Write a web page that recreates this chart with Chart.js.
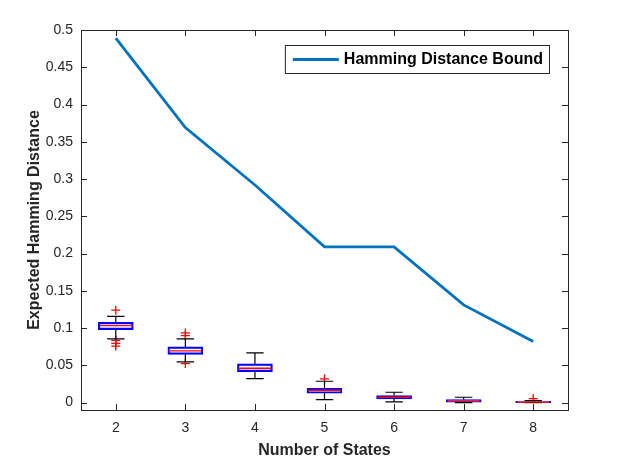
<!DOCTYPE html>
<html>
<head>
<meta charset="utf-8">
<script src="https://cdn.jsdelivr.net/npm/chart.js@4"></script>
<style>
  html, body { margin: 0; padding: 0; background: #fff; }
  #wrap { width: 623px; height: 467px; }
</style>
</head>
<body>
<div id="wrap"><canvas id="myChart" width="623" height="467"></canvas></div>
<script>
const states = [2, 3, 4, 5, 6, 7, 8];
const bound = [0.489, 0.369, 0.292, 0.209, 0.209, 0.131, 0.082];

// box plot summaries per state
const whiskerHigh = [0.1157, 0.0854, 0.0666, 0.0286, 0.0138, 0.0071, 0.0025];
const q3 = [0.1076, 0.0747, 0.0519, 0.0192, 0.0094, 0.0040, 0.0017];
const median = [0.1032, 0.0693, 0.0460, 0.0165, 0.0071, 0.0023, 0.0005];
const q1 = [0.0979, 0.0647, 0.0416, 0.0125, 0.0050, 0.0005, 0.0000];
const whiskerLow = [0.0854, 0.0546, 0.0322, 0.0040, 0.0010, 0.0000, 0.0000];
const outliers = [
  [0.1240, 0.0835, 0.0795, 0.0758],
  [0.0934, 0.0898, 0.0523],
  [],
  [0.0318],
  [],
  [],
  [0.0054]
];

const yTicks = [0, 0.05, 0.1, 0.15, 0.2, 0.25, 0.3, 0.35, 0.4, 0.45, 0.5];

const axisColor = '#262626';
const fontFamily = '"Liberation Sans", Arial, Helvetica, sans-serif';

const outlierPoints = [];
states.forEach((s, i) => outliers[i].forEach(v => outlierPoints.push({ x: s, y: v })));

// whiskers, medians, frame, inward ticks and legend
const boxExtras = {
  id: 'boxExtras',
  afterDatasetsDraw(chart) {
    const ctx = chart.ctx;
    const x = chart.scales.x, y = chart.scales.y;
    ctx.save();
    states.forEach((s, i) => {
      const px = x.getPixelForValue(s);
      const capL = x.getPixelForValue(s - 0.125), capR = x.getPixelForValue(s + 0.125);
      const boxL = x.getPixelForValue(s - 0.25), boxR = x.getPixelForValue(s + 0.25);
      ctx.strokeStyle = '#000';
      ctx.lineWidth = 1.2;
      ctx.beginPath();
      ctx.moveTo(px, y.getPixelForValue(q3[i]));
      ctx.lineTo(px, y.getPixelForValue(whiskerHigh[i]));
      ctx.moveTo(px, y.getPixelForValue(q1[i]));
      ctx.lineTo(px, y.getPixelForValue(whiskerLow[i]));
      ctx.moveTo(capL, y.getPixelForValue(whiskerHigh[i]));
      ctx.lineTo(capR, y.getPixelForValue(whiskerHigh[i]));
      ctx.moveTo(capL, y.getPixelForValue(whiskerLow[i]));
      ctx.lineTo(capR, y.getPixelForValue(whiskerLow[i]));
      ctx.stroke();
      ctx.strokeStyle = '#ff0000';
      ctx.lineWidth = 1.3;
      ctx.beginPath();
      ctx.moveTo(boxL + 1, y.getPixelForValue(median[i]));
      ctx.lineTo(boxR - 1, y.getPixelForValue(median[i]));
      ctx.stroke();
    });
    ctx.restore();
  },
  afterDraw(chart) {
    const ctx = chart.ctx;
    const a = chart.chartArea;
    const x = chart.scales.x, y = chart.scales.y;
    const tl = 6;
    ctx.save();
    ctx.strokeStyle = axisColor;
    ctx.lineWidth = 1;
    ctx.strokeRect(a.left + 0.5, a.top + 0.5, a.right - a.left, a.bottom - a.top);
    ctx.beginPath();
    x.ticks.forEach(t => {
      const px = Math.round(x.getPixelForValue(t.value)) + 0.5;
      ctx.moveTo(px, a.bottom); ctx.lineTo(px, a.bottom - tl);
      ctx.moveTo(px, a.top); ctx.lineTo(px, a.top + tl);
    });
    y.ticks.forEach(t => {
      const py = Math.round(y.getPixelForValue(t.value)) + 0.5;
      ctx.moveTo(a.left, py); ctx.lineTo(a.left + tl, py);
      ctx.moveTo(a.right, py); ctx.lineTo(a.right - tl, py);
    });
    ctx.stroke();

    // legend
    const label = chart.data.datasets[0].label;
    ctx.font = 'bold 16px ' + fontFamily;
    const tw = ctx.measureText(label).width;
    const right = a.right - 19, top = a.top + 15;
    const left = right - tw - 65;
    ctx.fillStyle = '#fff';
    ctx.fillRect(left, top, right - left, 28);
    ctx.strokeStyle = axisColor;
    ctx.strokeRect(left + 0.5, top + 0.5, right - left, 28);
    ctx.strokeStyle = '#0072BD';
    ctx.lineWidth = 2.8;
    ctx.beginPath();
    ctx.moveTo(left + 8, top + 14.5);
    ctx.lineTo(left + 54, top + 14.5);
    ctx.stroke();
    ctx.fillStyle = '#000';
    ctx.textBaseline = 'middle';
    ctx.fillText(label, left + 59, top + 15);
    ctx.restore();
  }
};

const config = {
  type: 'line',
  data: {
    datasets: [
      {
        label: 'Hamming Distance Bound',
        data: states.map((s, i) => ({ x: s, y: bound[i] })),
        borderColor: '#0072BD',
        borderWidth: 2.8,
        pointRadius: 0,
        tension: 0,
        order: 1
      },
      {
        type: 'bar',
        label: 'box',
        data: states.map((s, i) => ({ x: s, y: [q1[i], q3[i]] })),
        backgroundColor: 'rgba(0,0,0,0)',
        borderColor: '#0000ff',
        borderWidth: 1.5,
        borderSkipped: false,
        barThickness: 35,
        order: 3
      },
      {
        type: 'scatter',
        label: 'outliers',
        data: outlierPoints,
        pointStyle: 'cross',
        pointRadius: 4.5,
        borderColor: '#ff0000',
        borderWidth: 1.3,
        showLine: false,
        order: 2
      }
    ]
  },
  options: {
    responsive: false,
    devicePixelRatio: 1,
    animation: false,
    layout: { padding: { top: 30, right: 55, left: 0, bottom: 0 } },
    plugins: { legend: { display: false }, tooltip: { enabled: false } },
    scales: {
      x: {
        type: 'linear',
        min: 1.5,
        max: 8.5,
        offset: false,
        afterFit(scale) { scale.height = 57; },
        afterBuildTicks(scale) { scale.ticks = states.map(v => ({ value: v })); },
        grid: { display: false, drawTicks: false },
        border: { display: false },
        ticks: {
          color: axisColor,
          padding: 10,
          font: { family: fontFamily, size: 14 },
          callback: v => String(v)
        },
        title: {
          display: true,
          text: 'Number of States',
          color: axisColor,
          font: { family: fontFamily, size: 16, weight: 'bold' },
          padding: { top: 0, bottom: 7 }
        }
      },
      y: {
        min: -0.01,
        max: 0.5,
        afterFit(scale) { scale.width = 81; },
        afterBuildTicks(scale) { scale.ticks = yTicks.map(v => ({ value: v })); },
        grid: { display: false, drawTicks: false },
        border: { display: false },
        ticks: {
          color: axisColor,
          padding: 8,
          font: { family: fontFamily, size: 14 },
          callback: v => String(+v.toFixed(2))
        },
        title: {
          display: true,
          text: 'Expected Hamming Distance',
          color: axisColor,
          font: { family: fontFamily, size: 16, weight: 'bold' },
          padding: { top: 25, bottom: 0 }
        }
      }
    }
  },
  plugins: [boxExtras]
};

const myChart = new Chart(document.getElementById('myChart'), config);
</script>
</body>
</html>
